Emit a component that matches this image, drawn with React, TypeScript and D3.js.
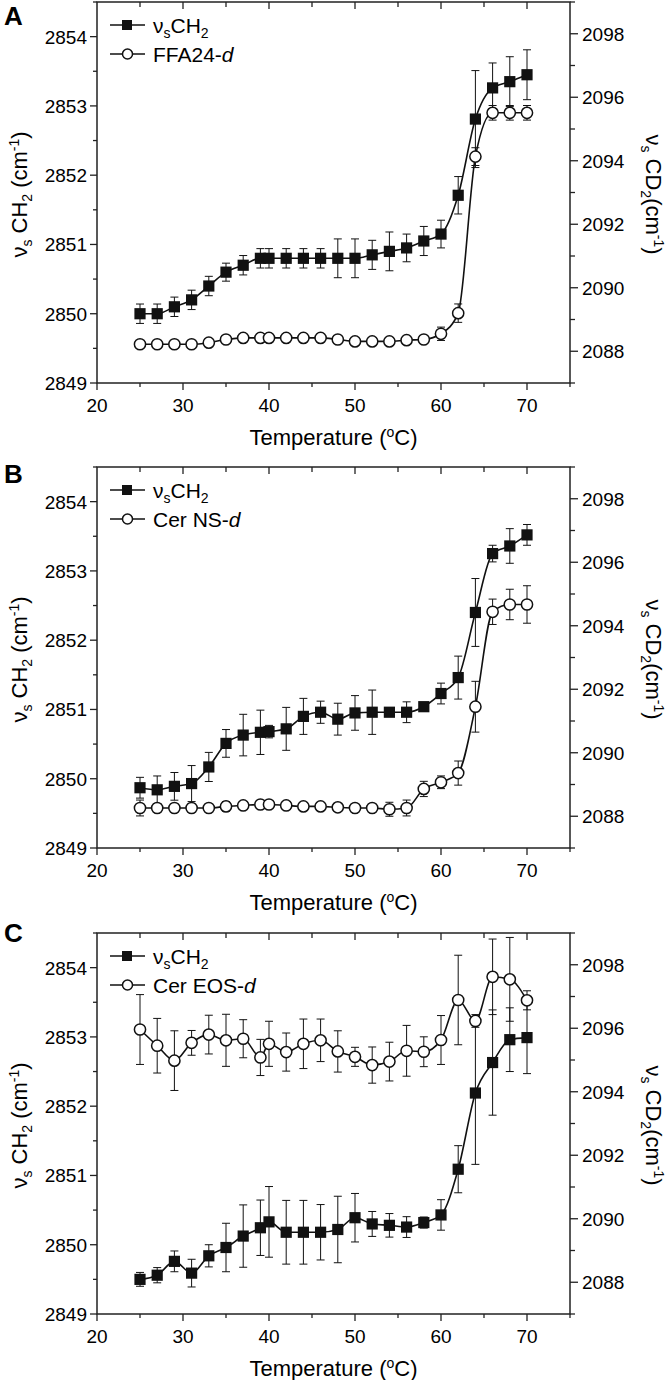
import React from 'react';
import * as d3 from 'd3';

// temperatures (°C) shared by all three panels
const temps = [25, 27, 29, 31, 33, 35, 37, 39, 40, 42, 44, 46, 48, 50, 52, 54, 56, 58, 60, 62, 64, 66, 68, 70];

// panel A: vsCH2 (left axis) and FFA24-d vsCD2 (right axis)
const ch2A = [2850.0, 2850.0, 2850.1, 2850.2, 2850.4, 2850.6, 2850.7, 2850.8, 2850.8, 2850.8, 2850.8, 2850.8, 2850.8, 2850.8, 2850.85, 2850.9, 2850.95, 2851.05, 2851.15, 2851.71, 2852.81, 2853.26, 2853.35, 2853.45];
const ch2AErr = [0.14, 0.14, 0.14, 0.14, 0.14, 0.13, 0.14, 0.14, 0.14, 0.14, 0.14, 0.14, 0.28, 0.28, 0.21, 0.28, 0.2, 0.21, 0.2, 0.27, 0.7, 0.36, 0.36, 0.36];
const cd2A = [2088.22, 2088.22, 2088.22, 2088.22, 2088.27, 2088.37, 2088.42, 2088.42, 2088.42, 2088.42, 2088.42, 2088.42, 2088.37, 2088.31, 2088.31, 2088.31, 2088.35, 2088.37, 2088.55, 2089.2, 2094.13, 2095.51, 2095.51, 2095.51];
const cd2AErr = [0.1, 0.1, 0.1, 0.1, 0.1, 0.1, 0.1, 0.1, 0.1, 0.1, 0.1, 0.1, 0.1, 0.1, 0.1, 0.1, 0.1, 0.1, 0.21, 0.29, 0.28, 0.23, 0.23, 0.23];

// panel B: vsCH2 and Cer NS-d
const ch2B = [2849.87, 2849.84, 2849.89, 2849.93, 2850.17, 2850.51, 2850.63, 2850.67, 2850.68, 2850.72, 2850.9, 2850.96, 2850.86, 2850.95, 2850.96, 2850.96, 2850.96, 2851.04, 2851.23, 2851.46, 2852.4, 2853.25, 2853.36, 2853.52];
const ch2BErr = [0.15, 0.2, 0.2, 0.26, 0.21, 0.2, 0.3, 0.32, 0.09, 0.31, 0.26, 0.16, 0.23, 0.25, 0.32, 0.06, 0.15, 0.04, 0.15, 0.31, 0.49, 0.12, 0.25, 0.15];
const cd2B = [2088.26, 2088.26, 2088.26, 2088.26, 2088.26, 2088.31, 2088.34, 2088.37, 2088.37, 2088.34, 2088.31, 2088.31, 2088.28, 2088.26, 2088.26, 2088.22, 2088.26, 2088.86, 2089.07, 2089.36, 2091.45, 2094.44, 2094.67, 2094.67];
const cd2BErr = [0.25, 0.12, 0.12, 0.12, 0.1, 0.15, 0.12, 0.12, 0.12, 0.12, 0.12, 0.12, 0.12, 0.12, 0.12, 0.22, 0.25, 0.24, 0.2, 0.38, 0.8, 0.4, 0.48, 0.59];

// panel C: vsCH2 and Cer EOS-d
const ch2C = [2849.5, 2849.56, 2849.76, 2849.59, 2849.84, 2849.96, 2850.125, 2850.245, 2850.33, 2850.18, 2850.18, 2850.18, 2850.22, 2850.39, 2850.3, 2850.28, 2850.255, 2850.32, 2850.43, 2851.09, 2852.19, 2852.63, 2852.96, 2852.99];
const ch2CErr = [0.1, 0.11, 0.15, 0.2, 0.16, 0.35, 0.45, 0.4, 0.51, 0.46, 0.46, 0.4, 0.48, 0.35, 0.18, 0.17, 0.15, 0.08, 0.22, 0.34, 1.03, 0.76, 0.46, 0.52];
const cd2C = [2095.96, 2095.45, 2094.98, 2095.54, 2095.8, 2095.62, 2095.67, 2095.08, 2095.51, 2095.25, 2095.51, 2095.62, 2095.27, 2095.1, 2094.84, 2094.95, 2095.29, 2095.26, 2095.63, 2096.89, 2096.23, 2097.62, 2097.54, 2096.88];
const cd2CErr = [1.1, 0.86, 0.94, 0.39, 0.61, 0.82, 0.6, 0.57, 0.71, 0.6, 0.78, 0.67, 0.65, 0.3, 0.57, 0.61, 0.8, 0.47, 0.77, 1.41, 0.2, 1.19, 1.32, 0.3];

const panelLetters = ['A', 'B', 'C'];
const deutLabels = ['FFA24-', 'Cer NS-', 'Cer EOS-'];

const xTicks = [20, 30, 40, 50, 60, 70];
const leftTicks = [2849, 2850, 2851, 2852, 2853, 2854];
const rightTicks = [2088, 2090, 2092, 2094, 2096, 2098];

const panels = [
  { ch2: ch2A, ch2Err: ch2AErr, cd2: cd2A, cd2Err: cd2AErr },
  { ch2: ch2B, ch2Err: ch2BErr, cd2: cd2B, cd2Err: cd2BErr },
  { ch2: ch2C, ch2Err: ch2CErr, cd2: cd2C, cd2Err: cd2CErr },
];

const FONT = '"Liberation Sans", Arial, Helvetica, sans-serif';
const W = 667;
const H = 1380;
const X0 = 97;
const X1 = 570;
const PH = 381;
const tops = [2, 467, 933];
const letterY = [25, 483, 942];

const x = d3.scaleLinear().domain([20, 75]).range([X0, X1]);

const Panel: React.FC<{ idx: number }> = ({ idx }) => {
  const top = tops[idx];
  const bottom = top + PH;
  const p = panels[idx];
  const yL = d3.scaleLinear().domain([2849, 2854.5]).range([bottom, top]);
  const yR = d3.scaleLinear().domain([2087, 2099]).range([bottom, top]);

  const line = (ys: number[], sc: d3.ScaleLinear<number, number>) =>
    d3.line<number>()
      .x((_, i) => x(temps[i]))
      .y(d => sc(d))
      .curve(d3.curveMonotoneX)(ys) as string;

  const errBars = (ys: number[], es: number[], sc: d3.ScaleLinear<number, number>) =>
    ys.map((v, i) => {
      const cx = x(temps[i]);
      const y1 = sc(v + es[i]);
      const y2 = sc(v - es[i]);
      return (
        <g key={i} stroke="#111" strokeWidth={1}>
          <line x1={cx} x2={cx} y1={y1} y2={y2} />
          <line x1={cx - 4} x2={cx + 4} y1={y1} y2={y1} />
          <line x1={cx - 4} x2={cx + 4} y1={y2} y2={y2} />
        </g>
      );
    });

  const minorX = d3.range(20, 75.1, 5);
  const minorL = d3.range(2849, 2854.51, 0.5);
  const minorR = d3.range(2087, 2099.1, 1);
  const cx = (X0 + X1) / 2;
  const cy = (top + bottom) / 2 + 2;

  return (
    <g>
      <text x={4} y={letterY[idx]} fontSize={26} fontWeight="bold" fontFamily={FONT}>{panelLetters[idx]}</text>

      {/* frame */}
      <rect x={X0} y={top} width={X1 - X0} height={PH} fill="none" stroke="#222" strokeWidth={1.5} />

      {/* bottom + top ticks */}
      {minorX.map(t => {
        const major = t % 10 === 0;
        return (
          <g key={'x' + t} stroke="#222" strokeWidth={1.3}>
            <line x1={x(t)} x2={x(t)} y1={bottom} y2={bottom + (major ? 7 : 4)} />
            {t > 20 && t < 75 && <line x1={x(t)} x2={x(t)} y1={top} y2={top + (major ? 7 : 5)} />}
          </g>
        );
      })}
      {xTicks.map(t => (
        <text key={'xl' + t} x={x(t)} y={bottom + 29} textAnchor="middle" fontSize={19} fontFamily={FONT}>{t}</text>
      ))}

      {/* left ticks */}
      {minorL.map(t => {
        const major = Math.abs(t - Math.round(t)) < 1e-6;
        return <line key={'l' + t} x1={X0} x2={X0 - (major ? 7 : 4)} y1={yL(t)} y2={yL(t)} stroke="#222" strokeWidth={1.3} />;
      })}
      {leftTicks.map(t => (
        <text key={'ll' + t} x={X0 - 10} y={yL(t) + 7} textAnchor="end" fontSize={19} fontFamily={FONT}>{t}</text>
      ))}

      {/* right ticks */}
      {minorR.map(t => {
        const major = t % 2 === 0;
        return <line key={'r' + t} x1={X1} x2={X1 + (major ? 8 : 5)} y1={yR(t)} y2={yR(t)} stroke="#222" strokeWidth={1.3} />;
      })}
      {rightTicks.map(t => (
        <text key={'rl' + t} x={X1 + 12} y={yR(t) + 7} textAnchor="start" fontSize={19} fontFamily={FONT}>{t}</text>
      ))}

      {/* axis titles */}
      <text x={cx} y={bottom + 62} textAnchor="middle" fontSize={22} fontFamily={FONT}>
        Temperature (<tspan dy={-8} fontSize={14}>o</tspan><tspan dy={8}>C)</tspan>
      </text>
      <text transform={`translate(27,${cy}) rotate(-90)`} textAnchor="middle" fontSize={22} fontFamily={FONT}>
        ν<tspan dy={5} fontSize={14}>s</tspan><tspan dy={-5}> CH</tspan><tspan dy={5} fontSize={14}>2</tspan><tspan dy={-5}> (cm</tspan><tspan dy={-8} fontSize={14}>-1</tspan><tspan dy={8}>)</tspan>
      </text>
      <text transform={`translate(646,${cy}) rotate(90)`} textAnchor="middle" fontSize={22} fontFamily={FONT}>
        ν<tspan dy={5} fontSize={14}>s</tspan><tspan dy={-5}> CD</tspan><tspan dy={5} fontSize={14}>2</tspan><tspan dy={-5}>(cm</tspan><tspan dy={-8} fontSize={14}>-1</tspan><tspan dy={8}>)</tspan>
      </text>

      {/* data lines */}
      <path d={line(p.cd2, yR)} fill="none" stroke="#111" strokeWidth={1.6} />
      <path d={line(p.ch2, yL)} fill="none" stroke="#111" strokeWidth={1.6} />

      {/* error bars */}
      {errBars(p.cd2, p.cd2Err, yR)}
      {errBars(p.ch2, p.ch2Err, yL)}

      {/* markers */}
      {p.cd2.map((v, i) => (
        <circle key={'c' + i} cx={x(temps[i])} cy={yR(v)} r={5.6} fill="#fff" stroke="#111" strokeWidth={1.5} />
      ))}
      {p.ch2.map((v, i) => (
        <rect key={'s' + i} x={x(temps[i]) - 5.6} y={yL(v) - 5.6} width={11.2} height={11.2} fill="#111" />
      ))}

      {/* legend */}
      <g fontFamily={FONT} fontSize={21}>
        <line x1={110} x2={145} y1={top + 23} y2={top + 23} stroke="#111" strokeWidth={1.6} />
        <rect x={122} y={top + 18} width={10} height={10} fill="#111" />
        <text x={153} y={top + 31}>
          ν<tspan dy={5} fontSize={14}>s</tspan><tspan dy={-5}>CH</tspan><tspan dy={5} fontSize={14}>2</tspan>
        </text>
        <line x1={110} x2={145} y1={top + 52} y2={top + 52} stroke="#111" strokeWidth={1.6} />
        <circle cx={127.5} cy={top + 52} r={5} fill="#fff" stroke="#111" strokeWidth={1.5} />
        <text x={153} y={top + 60}>
          {deutLabels[idx]}<tspan fontStyle="italic">d</tspan>
        </text>
      </g>
    </g>
  );
};

export default function App() {
  return (
    <div style={{ width: W, height: H, background: '#fff' }}>
      <style>{`body{margin:0;background:#fff}`}</style>
      <svg width={W} height={H} style={{ display: 'block' }}>
        <rect width={W} height={H} fill="#fff" />
        {panels.map((_, i) => <Panel key={i} idx={i} />)}
      </svg>
    </div>
  );
}
